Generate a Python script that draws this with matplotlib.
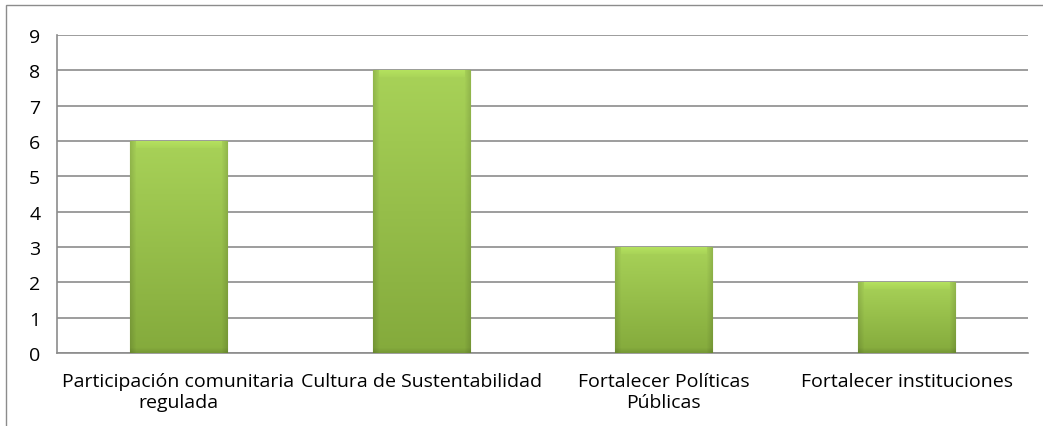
import numpy as np
import matplotlib.pyplot as plt
from matplotlib.patches import Rectangle
from matplotlib.colors import to_rgb

categories = ['Participación comunitaria\nregulada', 'Cultura de Sustentabilidad',
              'Fortalecer Políticas\nPúblicas', 'Fortalecer instituciones']
values = [6, 8, 3, 2]

plt.rcParams['font.family'] = ['Open Sans', 'DejaVu Sans']

W, H = 1043, 427
fig = plt.figure(figsize=(W / 100, H / 100), dpi=100)
ax = fig.add_axes([57 / W, 1 - 354 / H, (1028 - 57) / W, (354 - 36) / H])

x = np.arange(len(categories))
ax.set_xlim(-0.5, len(categories) - 0.5)
ax.set_ylim(0, 9)
bars = ax.bar(x, values, width=0.4, color='#96c24a', edgecolor='#6f922f',
              linewidth=0.8, zorder=3)

top_c = np.array(to_rgb('#a8d258'))
bot_c = np.array(to_rgb('#84aa3c'))
px_per_unit = (354 - 36) / 9
for b in bars:
    x0, w, h = b.get_x(), b.get_width(), b.get_height()
    nh = int(h * px_per_unit)
    nw = 97
    t = np.linspace(0, 1, nh).reshape(-1, 1, 1)
    img = top_c * (1 - t) + bot_c * t
    img = np.repeat(img, nw, axis=1)
    # darker side bevels
    for i in range(6):
        f = 0.88 + 0.02 * i
        img[:, i] *= f
        img[:, nw - 1 - i] *= f
    # lighter top bevel
    for j in range(7):
        img[j, 6:nw - 6] = np.clip(img[j, 6:nw - 6] * (1.07 - 0.008 * j), 0, 1)
    # darker bottom bevel
    for j in range(5):
        img[nh - 1 - j] *= 0.9 + 0.02 * j
    im = ax.imshow(img, aspect='auto', extent=(x0, x0 + w, 0, h),
                   zorder=3.5, interpolation='bilinear')
    im.set_clip_path(b)

ax.set_xlim(-0.5, len(categories) - 0.5)
ax.set_ylim(0, 9)
ax.set_yticks(range(10))
ax.yaxis.grid(True, color='#8c8c8c', linewidth=1.2, zorder=0)
ax.set_axisbelow(True)
ax.set_xticks(x)
ax.set_xticklabels(categories, fontsize=14, linespacing=1.2)
ax.tick_params(axis='both', length=0, labelsize=14, colors='black')
ax.tick_params(axis='x', pad=14)
for s in ['top', 'right']:
    ax.spines[s].set_visible(False)
for s in ['left', 'bottom']:
    ax.spines[s].set_color('#8c8c8c')
    ax.spines[s].set_linewidth(1.2)
for lbl in ax.get_yticklabels():
    lbl.set_horizontalalignment('left')
ax.tick_params(axis='y', pad=20)

fig.patches.append(Rectangle((6 / W, -0.1), 1.2, 1 - 6 / H + 0.1,
                             transform=fig.transFigure, fill=False,
                             edgecolor='#8c8c8c', linewidth=1.0))

fig.savefig('out.png', dpi=100)
